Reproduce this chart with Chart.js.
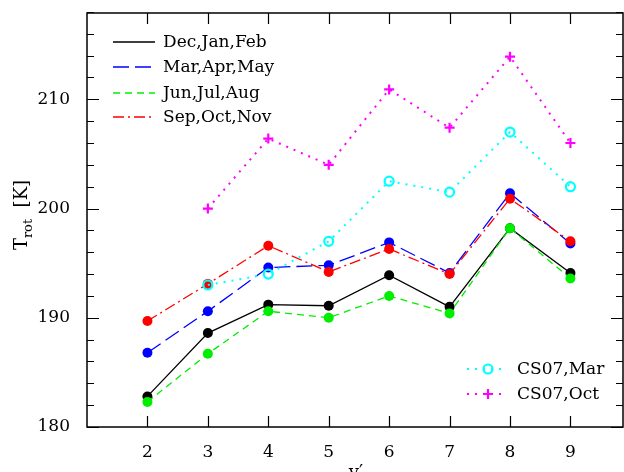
<!DOCTYPE html>
<html><head><meta charset="utf-8">
<script src="https://cdn.jsdelivr.net/npm/chart.js@4/dist/chart.umd.min.js"></script>
<style>html,body{margin:0;padding:0;background:#fff}#wrap{width:624px;height:472px}</style>
</head><body><div id="wrap"><canvas id="c" width="624" height="472"></canvas></div>
<script>
const vLevels = [2, 3, 4, 5, 6, 7, 8, 9];
const djf = [182.8, 188.6, 191.2, 191.1, 193.9, 191.0, 198.2, 194.1];
const mam = [186.8, 190.6, 194.6, 194.8, 196.9, 194.1, 201.4, 196.8];
const jja = [182.3, 186.7, 190.6, 190.0, 192.0, 190.4, 198.2, 193.6];
const son = [189.7, 193.1, 196.6, 194.2, 196.3, 194.0, 200.9, 197.0];
const cs07v = [3, 4, 5, 6, 7, 8, 9];
const cs07Mar = [193.0, 194.0, 197.0, 202.5, 201.5, 207.0, 202.0];
const cs07Oct = [200.0, 206.4, 204.0, 210.9, 207.4, 213.9, 206.0];
const yTicks = [180, 190, 200, 210];
const xTicks = [2, 3, 4, 5, 6, 7, 8, 9];

const FONT = "'DejaVu Serif', serif";
const pts = (xs, ys) => xs.map((x, i) => ({x: x, y: ys[i]}));

const seasonal = [
  {label: 'Dec,Jan,Feb', data: djf, color: '#000000', dash: []},
  {label: 'Mar,Apr,May', data: mam, color: '#0000ff', dash: [16, 6]},
  {label: 'Jun,Jul,Aug', data: jja, color: '#00ee00', dash: [7, 5]},
  {label: 'Sep,Oct,Nov', data: son, color: '#ff0000', dash: [11, 4, 2, 4]}
];

const datasets = [];
seasonal.forEach((s, i) => datasets.push({
  label: s.label, data: pts(vLevels, s.data), borderColor: s.color, backgroundColor: s.color,
  borderWidth: 1.3, borderDash: s.dash, pointRadius: 5, pointBorderWidth: 0,
  pointBackgroundColor: s.color, tension: 0, legendRow: 'top', order: 10 - i
}));
datasets.push({
  label: 'CS07,Mar', data: pts(cs07v, cs07Mar), borderColor: '#00ffff', backgroundColor: '#00ffff',
  borderWidth: 2, borderDash: [2, 6], pointStyle: 'circle', pointRadius: 4.5, pointBorderWidth: 2.2,
  pointBackgroundColor: 'rgba(0,0,0,0)', pointBorderColor: '#00ffff', tension: 0, legendRow: 'bottom', order: 2
});
datasets.push({
  label: 'CS07,Oct', data: pts(cs07v, cs07Oct), borderColor: '#ff00ff', backgroundColor: '#ff00ff',
  borderWidth: 2, borderDash: [2, 6], pointStyle: 'cross', pointRadius: 5, pointBorderWidth: 2.2,
  pointBorderColor: '#ff00ff', tension: 0, legendRow: 'bottom', order: 1
});

const framePlugin = {
  id: 'frame',
  afterDraw(chart) {
    const ctx = chart.ctx, a = chart.chartArea, xs = chart.scales.x, ys = chart.scales.y;
    ctx.save();
    ctx.strokeStyle = '#000'; ctx.lineWidth = 1.5; ctx.setLineDash([]);
    ctx.strokeRect(a.left, a.top, a.right - a.left, a.bottom - a.top);
    ctx.lineWidth = 1.2;
    for (let v = 180; v <= 218; v += 2) {
      const y = Math.round(ys.getPixelForValue(v)) + 0.5;
      const len = (v % 10 === 0) ? 12 : 7;
      ctx.beginPath(); ctx.moveTo(a.left, y); ctx.lineTo(a.left + len, y);
      ctx.moveTo(a.right, y); ctx.lineTo(a.right - len, y); ctx.stroke();
    }
    xTicks.forEach(v => {
      const x = Math.round(xs.getPixelForValue(v)) + 0.5;
      ctx.beginPath(); ctx.moveTo(x, a.bottom); ctx.lineTo(x, a.bottom - 11);
      ctx.moveTo(x, a.top); ctx.lineTo(x, a.top + 11); ctx.stroke();
    });
    // legends
    ctx.font = '17px ' + FONT; ctx.fillStyle = '#000'; ctx.textBaseline = 'middle'; ctx.textAlign = 'left';
    const topRows = [42, 67, 93, 117];
    chart.data.datasets.filter(d => d.legendRow === 'top').forEach((d, i) => {
      const y = topRows[i];
      ctx.strokeStyle = d.borderColor; ctx.lineWidth = 1.3; ctx.setLineDash(d.borderDash);
      ctx.beginPath(); ctx.moveTo(113, y); ctx.lineTo(155, y); ctx.stroke();
      ctx.setLineDash([]); ctx.fillStyle = '#000';
      ctx.fillText(d.label, 163, y + 1);
    });
    const botRows = [369, 394];
    chart.data.datasets.filter(d => d.legendRow === 'bottom').forEach((d, i) => {
      const y = botRows[i];
      ctx.strokeStyle = d.borderColor; ctx.lineWidth = 2; ctx.setLineDash([2, 6]);
      ctx.beginPath(); ctx.moveTo(467, y); ctx.lineTo(507, y); ctx.stroke();
      ctx.setLineDash([]);
      ctx.strokeStyle = d.pointBorderColor; ctx.fillStyle = 'rgba(0,0,0,0)'; ctx.lineWidth = d.pointBorderWidth;
      Chart.helpers.drawPoint(ctx, {pointStyle: d.pointStyle, radius: d.pointRadius, borderWidth: d.pointBorderWidth, rotation: 0}, 488, y);
      ctx.fillStyle = '#000';
      ctx.fillText(d.label, 517, y + 1);
    });
    // axis titles
    ctx.save();
    ctx.translate(21, 215); ctx.rotate(-Math.PI / 2);
    ctx.textAlign = 'left'; ctx.textBaseline = 'alphabetic';
    ctx.font = '18px ' + FONT;
    const wT = ctx.measureText('T').width;
    ctx.font = '13px ' + FONT;
    const wR = ctx.measureText('rot').width;
    ctx.font = '18px ' + FONT;
    const wK = ctx.measureText('  [K]').width;
    let x0 = -(wT + wR + wK) / 2;
    ctx.font = '18px ' + FONT; ctx.fillText('T', x0, 6);
    ctx.font = '13px ' + FONT; ctx.fillText('rot', x0 + wT, 11);
    ctx.font = '18px ' + FONT; ctx.fillText('  [K]', x0 + wT + wR, 6);
    ctx.restore();
    ctx.font = '18px ' + FONT; ctx.textAlign = 'center'; ctx.textBaseline = 'alphabetic';
    ctx.fillText('v\u2032', 356, 478);
    ctx.restore();
  }
};

new Chart(document.getElementById('c'), {
  type: 'line',
  data: {datasets: datasets},
  options: {
    responsive: false, animation: false, devicePixelRatio: 1,
    layout: {autoPadding: false, padding: {left: 0, top: 13, right: 1, bottom: 0}},
    plugins: {legend: {display: false}, tooltip: {enabled: false}},
    scales: {
      x: {
        type: 'linear', min: 1, max: 9.87,
        grid: {display: false}, border: {display: false},
        afterFit(s) { s.height = 45; s.paddingLeft = 0; s.paddingRight = 0; },
        afterBuildTicks(s) { s.ticks = xTicks.map(v => ({value: v})); },
        ticks: {color: '#000', font: {family: FONT, size: 17}, padding: 7, maxRotation: 0}
      },
      y: {
        type: 'linear', min: 180, max: 217.9,
        grid: {display: false}, border: {display: false},
        afterFit(s) { s.width = 87; s.paddingTop = 0; s.paddingBottom = 0; },
        afterBuildTicks(s) { s.ticks = yTicks.map(v => ({value: v})); },
        ticks: {color: '#000', font: {family: FONT, size: 17}, padding: 9}
      }
    }
  },
  plugins: [framePlugin]
});
</script></body></html>
